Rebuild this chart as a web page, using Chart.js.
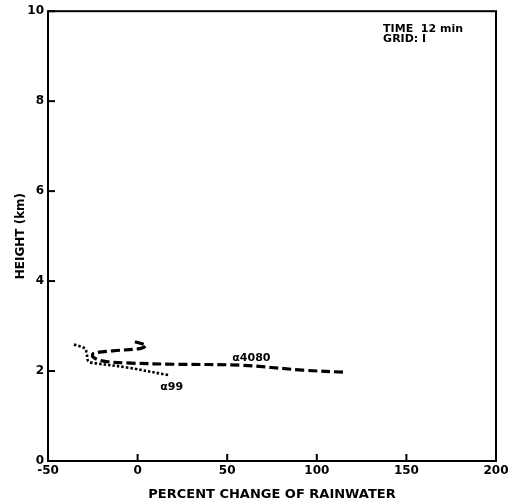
<!DOCTYPE html>
<html>
<head>
<meta charset="utf-8">
<script src="https://cdn.jsdelivr.net/npm/chart.js@4.4.1/dist/chart.umd.min.js"></script>
<style>
  html, body { margin: 0; padding: 0; background: #fff; }
  #wrap { width: 514px; height: 502px; }
</style>
</head>
<body>
<div id="wrap"><canvas id="myChart" width="514" height="502"></canvas></div>
<script>
// alpha 4080 run (dashed)
var a4080X = [-1.5, 4.7, 1.3, -13.6, -24.7, -24.9, -19.1, -6.1, 21.8, 57.1, 92.3, 116.8];
var a4080Y = [2.65, 2.57, 2.50, 2.45, 2.39, 2.31, 2.22, 2.18, 2.15, 2.13, 2.02, 1.97];

// alpha 99 run (dotted)
var a99X = [-35.5, -29.4, -28.4, -27.5, -22.8, -6.1, 17.1];
var a99Y = [2.59, 2.50, 2.39, 2.22, 2.17, 2.08, 1.91];

var xTicks = [-50, 0, 50, 100, 150, 200];
var yTicks = [0, 2, 4, 6, 8, 10];

var curveLabels = [
  { text: "\u03b14080", x: 63.5, y: 2.28 },
  { text: "\u03b199", x: 19, y: 1.64 }
];
var noteLines = ["TIME  12 min", "GRID: I"];

var boldFont = "'DejaVu Sans', sans-serif";

function toPoints(xs, ys) {
  return xs.map(function (x, i) { return { x: x, y: ys[i] }; });
}

// inward ticks, frame and text labels
var extras = {
  id: "extras",
  afterDraw: function (chart) {
    var ctx = chart.ctx;
    var area = chart.chartArea;
    var xs = chart.scales.x;
    var ys = chart.scales.y;
    ctx.save();
    ctx.strokeStyle = "#000";
    ctx.lineWidth = 2;
    ctx.strokeRect(area.left, area.top, area.right - area.left, area.bottom - area.top);

    xTicks.forEach(function (v) {
      var px = xs.getPixelForValue(v);
      ctx.beginPath();
      ctx.moveTo(px, area.bottom);
      ctx.lineTo(px, area.bottom - 7);
      ctx.stroke();
    });
    yTicks.forEach(function (v) {
      var py = ys.getPixelForValue(v);
      ctx.beginPath();
      ctx.moveTo(area.left, py);
      ctx.lineTo(area.left + 7, py);
      ctx.stroke();
    });

    ctx.fillStyle = "#000";
    ctx.font = "bold 11px " + boldFont;
    ctx.textAlign = "center";
    ctx.textBaseline = "middle";
    curveLabels.forEach(function (l) {
      ctx.fillText(l.text, xs.getPixelForValue(l.x), ys.getPixelForValue(l.y));
    });

    ctx.textAlign = "left";
    ctx.font = "bold 11px " + boldFont;
    noteLines.forEach(function (t, i) {
      ctx.fillText(t, xs.getPixelForValue(137), ys.getPixelForValue(9.61) + i * 10);
    });
    ctx.restore();
  }
};

var ctx = document.getElementById("myChart");

var chartConfig = {
  type: "line",
  data: {
    datasets: [
      {
        label: "\u03b14080",
        data: toPoints(a4080X, a4080Y),
        borderColor: "#000",
        borderWidth: 3.2,
        borderDash: [9, 4],
        pointRadius: 0,
        tension: 0.35,
        fill: false
      },
      {
        label: "\u03b199",
        data: toPoints(a99X, a99Y),
        borderColor: "#000",
        borderWidth: 2.6,
        borderDash: [2.5, 2],
        pointRadius: 0,
        tension: 0.35,
        fill: false
      }
    ]
  },
  options: {
    responsive: false,
    animation: false,
    layout: { padding: { top: 10, right: 18, left: 0, bottom: 0 } },
    plugins: { legend: { display: false }, tooltip: { enabled: false } },
    scales: {
      x: {
        type: "linear",
        min: -50,
        max: 200,
        afterBuildTicks: function (scale) {
          scale.ticks = xTicks.map(function (v) { return { value: v }; });
        },
        grid: { display: false, drawTicks: false },
        border: { display: false },
        ticks: {
          color: "#000",
          padding: 3,
          maxRotation: 0,
          font: { family: boldFont, size: 12, weight: "bold" }
        },
        title: {
          display: true,
          text: "PERCENT CHANGE OF RAINWATER",
          color: "#000",
          padding: { top: 4, bottom: 0 },
          font: { family: boldFont, size: 13, weight: "bold" }
        },
        afterFit: function (scale) { scale.height = 41; }
      },
      y: {
        type: "linear",
        min: 0,
        max: 10,
        afterBuildTicks: function (scale) {
          scale.ticks = yTicks.map(function (v) { return { value: v }; });
        },
        grid: { display: false, drawTicks: false },
        border: { display: false },
        ticks: {
          color: "#000",
          padding: 4,
          font: { family: boldFont, size: 12, weight: "bold" }
        },
        title: {
          display: true,
          text: "HEIGHT (km)",
          color: "#000",
          padding: { top: 14, bottom: 0 },
          font: { family: boldFont, size: 12, weight: "bold" }
        },
        afterFit: function (scale) { scale.width = 48; }
      }
    }
  },
  plugins: [extras]
};

var myChart = new Chart(ctx, chartConfig);
</script>
</body>
</html>
